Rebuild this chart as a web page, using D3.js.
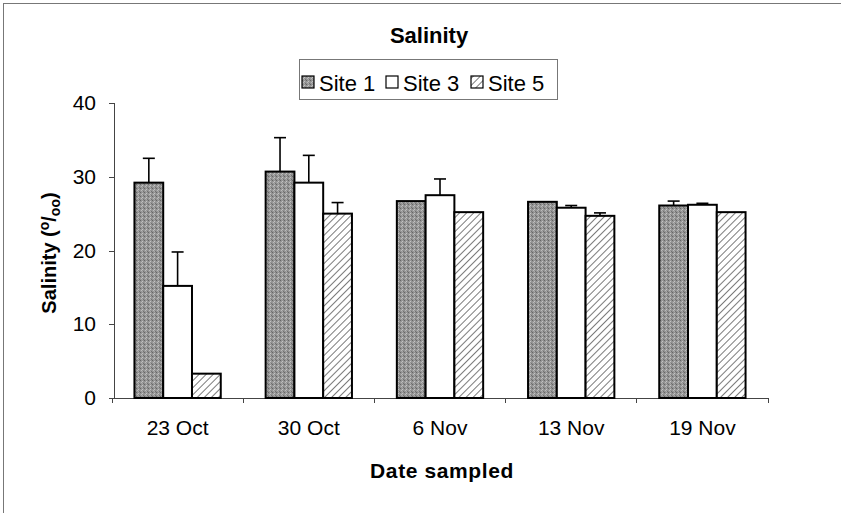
<!DOCTYPE html>
<meta charset="utf-8">
<style>
    body { margin: 0; background: #fff; }
    svg { font-family: Arial, "Liberation Sans", sans-serif; }
    .axis path, .axis line { stroke: #444; shape-rendering: crispEdges; }
    .axis text { font-size: 21px; fill: #000; font-family: Arial, "Liberation Sans", sans-serif; }
</style>
<body>
<script src="https://cdn.jsdelivr.net/npm/d3@7"></script>
<script>
    const dates = ["23 Oct", "30 Oct", "6 Nov", "13 Nov", "19 Nov"];
    const sites = ["Site 1", "Site 3", "Site 5"];
    // mean salinity per site, one value per date
    const site1 = [29.2, 30.7, 26.7, 26.6, 26.1];
    const site3 = [15.2, 29.2, 27.5, 25.8, 26.2];
    const site5 = [3.3, 25.0, 25.2, 24.7, 25.2];
    // upper end of error bar (0 = none drawn)
    const site1Err = [32.5, 35.3, 0, 0, 26.7];
    const site3Err = [19.8, 32.9, 29.7, 26.1, 26.4];
    const site5Err = [0, 26.5, 0, 25.1, 0];
    const yTicks = [0, 10, 20, 30, 40];

    const width = 841, height = 513;

    const svg = d3.select("body").append("svg")
        .attr("width", width)
        .attr("height", height);

    const defs = svg.append("defs");
    // stippled grey for site 1
    const stip = defs.append("pattern")
        .attr("id", "stipple")
        .attr("patternUnits", "userSpaceOnUse")
        .attr("width", 4).attr("height", 4);
    stip.append("rect").attr("width", 4).attr("height", 4).attr("fill", "#949494");
    [[0, 0, "#666"], [2, 1, "#c4c4c4"], [1, 2, "#bbb"], [3, 3, "#707070"], [2, 3, "#aaa"]].forEach(p => {
        stip.append("rect").attr("x", p[0]).attr("y", p[1]).attr("width", 1).attr("height", 1).attr("fill", p[2]);
    });
    // diagonal hatch for site 5
    const hatch = defs.append("pattern")
        .attr("id", "hatch")
        .attr("patternUnits", "userSpaceOnUse")
        .attr("width", 5).attr("height", 5)
        .attr("patternTransform", "rotate(45)");
    hatch.append("rect").attr("width", 5).attr("height", 5).attr("fill", "#fff");
    hatch.append("line").attr("x1", 0).attr("y1", 0).attr("x2", 0).attr("y2", 5)
        .attr("stroke", "#222").attr("stroke-width", 1.2);

    const fills = {"Site 1": "url(#stipple)", "Site 3": "#fff", "Site 5": "url(#hatch)"};

    // outer frame
    svg.append("rect")
        .attr("x", 3.5).attr("y", 3.5)
        .attr("width", width + 10).attr("height", height + 10)
        .attr("fill", "none")
        .attr("stroke", "#777")
        .attr("stroke-width", 1);

    const x0 = d3.scaleBand().domain(dates).range([112, 768]).padding(0);
    const x1 = d3.scaleBand().domain(sites).range([0, x0.bandwidth()])
        .paddingInner(0).paddingOuter(0.78);
    const y = d3.scaleLinear().domain([0, 40]).range([398, 103]);

    // axes
    svg.append("g")
        .attr("class", "axis")
        .attr("transform", "translate(114,0)")
        .call(d3.axisLeft(y).tickValues(yTicks).tickSize(5).tickPadding(13))
        .call(g => g.select(".domain").attr("d", "M-5," + y(40) + "H0V" + y(0) + "H-5"));

    const xAxis = svg.append("g")
        .attr("class", "axis")
        .attr("transform", "translate(0," + y(0) + ")");
    xAxis.append("line")
        .attr("x1", x0.range()[0]).attr("x2", x0.range()[1])
        .attr("stroke", "#444");
    xAxis.selectAll(".tk")
        .data(dates.map(d => x0(d) + x0.bandwidth()).concat([x0.range()[0]]))
        .enter().append("line")
        .attr("x1", d => d).attr("x2", d => d)
        .attr("y1", 0).attr("y2", 5)
        .attr("stroke", "#444");
    xAxis.selectAll(".lbl")
        .data(dates)
        .enter().append("text")
        .attr("x", d => x0(d) + x0.bandwidth() / 2)
        .attr("y", 37)
        .attr("text-anchor", "middle")
        .text(d => d);

    const rows = [];
    dates.forEach((d, i) => {
        rows.push({date: d, site: "Site 1", v: site1[i], e: site1Err[i]});
        rows.push({date: d, site: "Site 3", v: site3[i], e: site3Err[i]});
        rows.push({date: d, site: "Site 5", v: site5[i], e: site5Err[i]});
    });

    // error bars behind bars
    const err = svg.append("g").selectAll("g")
        .data(rows.filter(r => r.e > r.v))
        .enter().append("g")
        .attr("stroke", "#000")
        .attr("stroke-width", 1.6);
    err.append("line")
        .attr("x1", d => x0(d.date) + x1(d.site) + x1.bandwidth() / 2)
        .attr("x2", d => x0(d.date) + x1(d.site) + x1.bandwidth() / 2)
        .attr("y1", d => y(d.v))
        .attr("y2", d => y(d.e));
    err.append("line")
        .attr("x1", d => x0(d.date) + x1(d.site) + x1.bandwidth() / 2 - 6)
        .attr("x2", d => x0(d.date) + x1(d.site) + x1.bandwidth() / 2 + 6)
        .attr("y1", d => y(d.e))
        .attr("y2", d => y(d.e));

    svg.append("g").selectAll("rect")
        .data(rows)
        .enter().append("rect")
        .attr("x", d => x0(d.date) + x1(d.site))
        .attr("y", d => y(d.v))
        .attr("width", x1.bandwidth())
        .attr("height", d => y(0) - y(d.v))
        .attr("fill", d => fills[d.site])
        .attr("stroke", "#000")
        .attr("stroke-width", 2);

    // title
    svg.append("text")
        .attr("x", 429).attr("y", 43)
        .attr("text-anchor", "middle")
        .style("font-size", "22px")
        .style("font-weight", "bold")
        .text("Salinity");

    // legend
    svg.append("rect")
        .attr("x", 299.5).attr("y", 59.5)
        .attr("width", 258).attr("height", 40)
        .attr("fill", "#fff")
        .attr("stroke", "#777");
    const legendX = [302, 386, 471];
    const leg = svg.append("g").selectAll("g")
        .data(sites)
        .enter().append("g")
        .attr("transform", (d, i) => "translate(" + legendX[i] + ",0)");
    leg.append("rect")
        .attr("x", 0).attr("y", 76)
        .attr("width", 12).attr("height", 12)
        .attr("fill", d => fills[d])
        .attr("stroke", "#000")
        .attr("stroke-width", 1.2);
    leg.append("text")
        .attr("x", 17).attr("y", 91)
        .style("font-size", "22px")
        .text(d => d);

    // axis titles
    const yl = svg.append("text")
        .attr("transform", "translate(56,253) rotate(-90)")
        .attr("text-anchor", "middle")
        .style("font-size", "20px")
        .style("font-weight", "bold");
    yl.append("tspan").text("Salinity (");
    yl.append("tspan").attr("dy", -7).style("font-size", "14px").text("o");
    yl.append("tspan").attr("dy", 7).text("/");
    yl.append("tspan").attr("dy", 4).style("font-size", "14px").text("oo");
    yl.append("tspan").attr("dy", -4).text(")");

    svg.append("text")
        .attr("x", 442).attr("y", 478)
        .attr("text-anchor", "middle")
        .style("font-size", "21px")
        .style("font-weight", "bold")
        .style("letter-spacing", "0.6px")
        .text("Date sampled");
</script>
</body>
</html>
